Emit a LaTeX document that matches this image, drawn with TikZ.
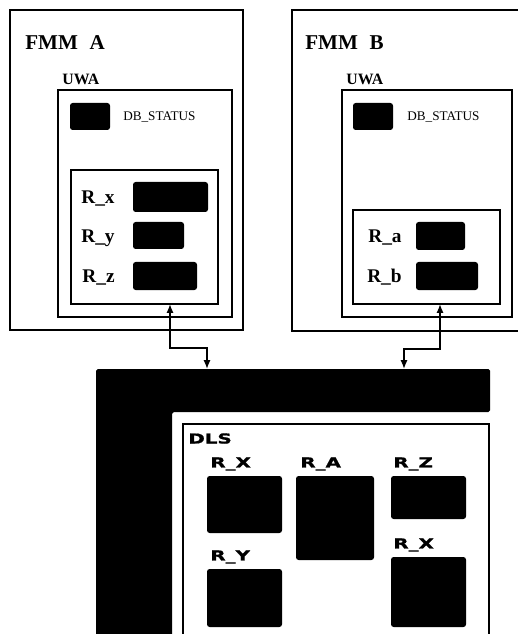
\documentclass[tikz,border=0pt]{standalone}
\usepackage{fontspec}
\setmainfont{Liberation Serif}
\newfontfamily\dlsfont{DejaVu Sans}[FakeStretch=1.45, BoldFeatures={FakeBold=1.2}]
\usepackage{tikz}
\usetikzlibrary{arrows.meta, positioning, calc}
\newdimen\px \px=0.02cm

\begin{document}
\begin{tikzpicture}[x=0.02cm, y=-0.02cm,
        frame/.style={draw, line width=1pt, anchor=north west, inner sep=0pt, outer sep=0pt},
        blob/.style={fill=black, rounded corners=1.5pt, anchor=north west, inner sep=0pt, outer sep=0pt},
        title/.style={font=\fontsize{12}{14}\selectfont\bfseries, inner sep=0pt},
        uwa/.style={font=\fontsize{9}{11}\selectfont\bfseries, inner sep=0pt},
        flag/.style={font=\fontsize{7.5}{9}\selectfont, inner sep=0pt},
        reg/.style={font=\fontsize{11}{13}\selectfont\bfseries, inner sep=0pt, text height=7.5pt, text depth=0pt},
        dls/.style={font=\dlsfont\bfseries\fontsize{7.8}{9}\selectfont, inner sep=0pt},
        link/.style={{Latex[length=5pt,width=4pt]}-{Latex[length=5pt,width=4pt]}, line width=0.9pt}
    ]
    \path[use as bounding box, fill=white] (0,0) rectangle (517,634);

    % FMM A
    \node[frame, minimum width=233\px, minimum height=320\px] (fmmA) at (10,10) {};
    \node[title, anchor=west] (fmmAname) at (25,43) {FMM\hspace{0.55em}A};
    \node[frame, minimum width=174\px, minimum height=227\px] (uwaA) at (58,90) {};
    \node[uwa, above right=0.1cm and 0.08cm of uwaA.north west] {UWA};
    \node[blob, minimum width=40\px, minimum height=27\px] (dbA) at (70,103) {};
    \node[flag, right=0.26cm of dbA] {DB\_STATUS};
    \node[frame, minimum width=147\px, minimum height=134\px] (regsA) at (71,170) {};
    \node[blob, minimum width=75\px, minimum height=30\px] (rxA) at (133,182) {};
    \node[blob, minimum width=51\px, minimum height=27\px] (ryA) at (133,222) {};
    \node[blob, minimum width=64\px, minimum height=28\px] (rzA) at (133,262) {};
    \node[reg, left=0.36cm of rxA] {R\_x};
    \node[reg, left=0.36cm of ryA] {R\_y};
    \node[reg, left=0.36cm of rzA] {R\_z};

    % FMM B
    \node[frame, minimum width=240\px, minimum height=321\px] (fmmB) at (292,10) {};
    \node[title, anchor=west] (fmmBname) at (305,43) {FMM\hspace{0.55em}B};
    \node[frame, minimum width=170\px, minimum height=227\px] (uwaB) at (342,90) {};
    \node[uwa, above right=0.1cm and 0.08cm of uwaB.north west] {UWA};
    \node[blob, minimum width=40\px, minimum height=27\px] (dbB) at (353,103) {};
    \node[flag, right=0.28cm of dbB] {DB\_STATUS};
    \node[frame, minimum width=147\px, minimum height=94\px] (regsB) at (353,210) {};
    \node[blob, minimum width=49\px, minimum height=28\px] (raB) at (416,222) {};
    \node[blob, minimum width=62\px, minimum height=28\px] (rbB) at (416,262) {};
    \node[reg, left=0.28cm of raB] {R\_a};
    \node[reg, left=0.28cm of rbB] {R\_b};

    % shared store
    \fill[rounded corners=1pt] (96,369) -- (490,369) -- (490,412) -- (172,412) -- (172,640) -- (96,640) -- cycle;
    \coordinate (busA) at (207,369);
    \coordinate (busB) at (404,369);

    % Links
    \draw[link] ($(regsA.south west)+(99,0)$) |- ($(busA)+(0,-21)$) -- (busA);
    \draw[link] ($(regsB.south west)+(87,0)$) |- ($(busB)+(0,-20)$) -- (busB);

    % DLS
    \node[frame, minimum width=306\px, minimum height=240\px] (dls) at (183,424) {};
    \node[dls, below right=0.18cm and 0.1cm of dls.north west] {DLS};
    \node[blob, minimum width=75\px, minimum height=57\px] (dx) at (207,476) {};
    \node[blob, minimum width=78\px, minimum height=84\px] (da) at (296,476) {};
    \node[blob, minimum width=75\px, minimum height=43\px] (dz) at (391,476) {};
    \node[blob, minimum width=75\px, minimum height=58\px] (dy) at (207,569) {};
    \node[blob, minimum width=75\px, minimum height=70\px] (dx2) at (391,557) {};
    \node[dls, above right=0.1cm and 0.06cm of dx.north west] {R\_X};
    \node[dls, above right=0.1cm and 0.08cm of da.north west] {R\_A};
    \node[dls, above right=0.1cm and 0.04cm of dz.north west] {R\_Z};
    \node[dls, above right=0.1cm and 0.06cm of dy.north west] {R\_Y};
    \node[dls, above right=0.1cm and 0.04cm of dx2.north west] {R\_X};

\end{tikzpicture}
\end{document}
